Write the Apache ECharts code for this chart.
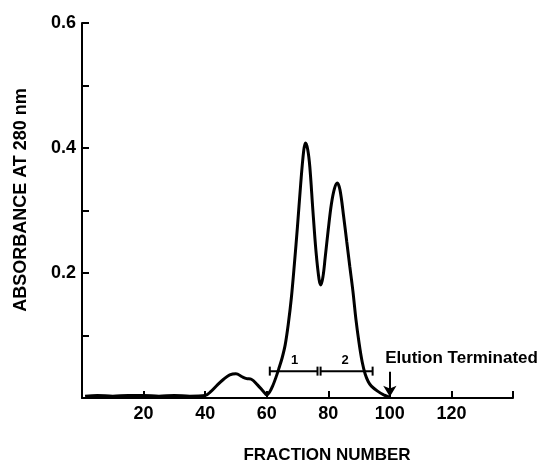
<!DOCTYPE html>
<html>
<head>
<meta charset="utf-8">
<script src="https://cdn.jsdelivr.net/npm/echarts@6/dist/echarts.min.js"></script>
<style>
  html, body { margin: 0; padding: 0; background: #fff; }
  #chart { width: 547px; height: 460px; }
</style>
</head>
<body>
<div id="chart"></div>
<script>
// absorbance trace
const fractions = [1, 5, 10, 15, 20, 25, 30, 35, 40,
  42, 44, 46, 48, 50, 52, 53.5, 55, 57, 59, 60,
  61, 62, 63, 64, 65, 66, 67, 68, 69, 70, 71, 72, 72.6, 73.3, 74, 75, 76, 77, 77.6,
  78.3, 79, 80, 81, 82, 82.9, 83.8, 85, 86, 87, 88, 89, 90, 91, 92, 93, 94, 96, 98, 100]
const absorbance = [0.003, 0.004, 0.003, 0.004, 0.004, 0.003, 0.004, 0.003, 0.004,
  0.011, 0.021, 0.030, 0.037, 0.039, 0.034, 0.031, 0.030, 0.021, 0.010, 0.005,
  0.010, 0.020, 0.033, 0.048, 0.064, 0.085, 0.118, 0.160, 0.215, 0.275, 0.340, 0.395, 0.408, 0.398, 0.370, 0.300, 0.235, 0.190, 0.181,
  0.195, 0.225, 0.270, 0.310, 0.335, 0.344, 0.333, 0.290, 0.250, 0.210, 0.171, 0.125, 0.088, 0.058, 0.038, 0.026, 0.019, 0.011, 0.005, 0.001]

// pooled fraction ranges (bars 1 and 2)
const poolNames = ['1', '2']
const poolStart = [61, 77.5]
const poolEnd = [76.5, 94.4]
const poolLevel = 0.043
const poolLabelX = [69.1, 85.5]

const xTicks = [20, 40, 60, 80, 100, 120]
const yTicks = [0.2, 0.4, 0.6]
const elutionEnd = 100
const noteText = 'Elution Terminated'

const chart = echarts.init(document.getElementById('chart'))

const font = 'Liberation Sans, Arial, sans-serif'

const poolSeries = poolNames.map((n, i) => ({
  name: 'pool ' + n,
  type: 'line',
  data: [[poolStart[i], poolLevel], [poolEnd[i], poolLevel]],
  symbol: 'rect',
  symbolSize: [2, 9],
  showSymbol: true,
  itemStyle: {color: '#000'},
  lineStyle: {color: '#000', width: 2},
  silent: true,
  z: 3
}))

const textLabel = (text, extra) => Object.assign({
  show: true, formatter: text, position: 'inside', color: '#000',
  fontFamily: font, fontWeight: 'bold', fontSize: 13
}, extra)

chart.setOption({
  animation: false,
  grid: {left: 82, right: 34, top: 23, bottom: 62},
  xAxis: {
    type: 'value',
    min: 0,
    max: 140,
    interval: 20,
    axisLine: {lineStyle: {color: '#000', width: 2}},
    axisTick: {inside: true, length: 7, lineStyle: {color: '#000', width: 2}},
    axisLabel: {
      color: '#000', fontFamily: font, fontWeight: 'bold', fontSize: 18, margin: 7,
      formatter: v => xTicks.includes(v) ? String(v) : ''
    },
    splitLine: {show: false}
  },
  yAxis: {
    type: 'value',
    min: 0,
    max: 0.6,
    interval: 0.1,
    axisLine: {show: true, lineStyle: {color: '#000', width: 2}},
    axisTick: {show: true, inside: true, length: 7, lineStyle: {color: '#000', width: 2}},
    axisLabel: {
      color: '#000', fontFamily: font, fontWeight: 'bold', fontSize: 18, margin: 6,
      formatter: v => yTicks.some(t => Math.abs(t - v) < 1e-6) ? v.toFixed(1) : ''
    },
    splitLine: {show: false}
  },
  graphic: [
    {
      type: 'text', x: 21, y: 200, rotation: Math.PI / 2,
      style: {
        text: 'ABSORBANCE AT 280 nm', fill: '#000', font: 'bold 18px ' + font,
        textAlign: 'center', textVerticalAlign: 'middle'
      }
    },
    {
      type: 'text', x: 327, y: 455,
      style: {
        text: 'FRACTION NUMBER', fill: '#000', font: 'bold 17px ' + font,
        textAlign: 'center', textVerticalAlign: 'middle'
      }
    }
  ],
  series: [
    {
      name: 'A280',
      type: 'line',
      data: fractions.map((f, i) => [f, absorbance[i]]),
      smooth: 0.35,
      showSymbol: false,
      lineStyle: {color: '#000', width: 3},
      markLine: {
        silent: true,
        symbol: ['none', 'arrow'],
        symbolSize: [10, 11],
        lineStyle: {color: '#000', width: 2, type: 'solid'},
        label: {show: false},
        data: [[{coord: [elutionEnd, 0.042]}, {coord: [elutionEnd, 0.002]}]]
      },
      z: 4
    },
    ...poolSeries,
    {
      name: 'labels',
      type: 'scatter',
      symbolSize: 0,
      silent: true,
      itemStyle: {color: '#000', opacity: 1},
      data: [
        {value: [poolLabelX[0], poolLevel + 0.017], label: textLabel(poolNames[0])},
        {value: [poolLabelX[1], poolLevel + 0.017], label: textLabel(poolNames[1])},
        {value: [98.5, 0.064], label: textLabel(noteText, {position: 'right', distance: 0, fontSize: 17})}
      ]
    }
  ]
})
</script>
</body>
</html>
